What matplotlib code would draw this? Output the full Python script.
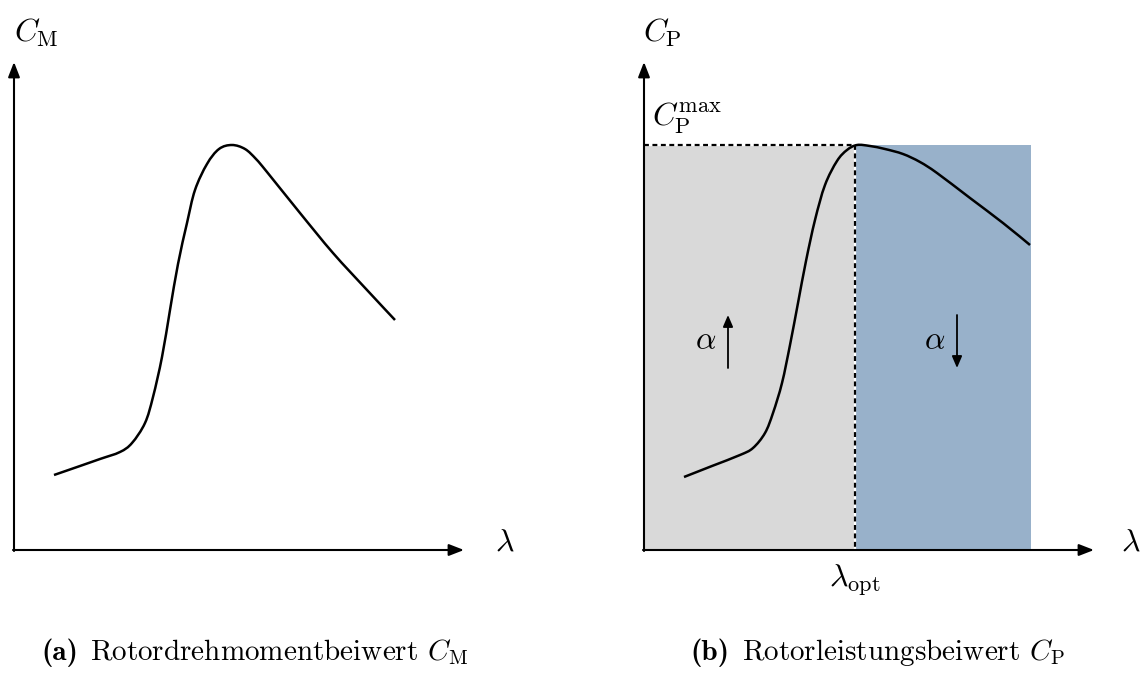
import matplotlib
matplotlib.use("Agg")
import matplotlib.pyplot as plt
import numpy as np
from matplotlib.patches import Rectangle, PathPatch
from matplotlib.path import Path

plt.rcParams['mathtext.fontset'] = 'cm'
plt.rcParams['font.family'] = 'serif'
plt.rcParams['font.serif'] = ['cmr10', 'DejaVu Serif']
plt.rcParams['axes.unicode_minus'] = False

# sketch is drawn in pixel space of the 1140x675 figure (y downwards)
# left panel: C_M(lambda)
cm_x = [54, 80, 100, 120, 132, 145, 153, 162, 170, 178, 187, 195, 207, 219, 232,
        245, 256, 267, 300, 333, 367, 395]
cm_y = [475, 466, 459, 452, 443, 423, 397, 357, 310, 264, 223, 190, 164, 149, 145,
        149, 159, 172, 213, 253, 290, 320]

# right panel: C_P(lambda)
cp_x = [684, 712, 740, 753, 765, 773, 782, 790, 798, 806, 815, 825, 837, 847, 857,
        870, 885, 903, 920, 937, 970, 1003, 1030]
cp_y = [477, 466, 455, 448, 433, 413, 383, 345, 303, 261, 220, 185, 161, 150, 145,
        146, 149, 154, 162, 173, 198, 223, 245]

# regions / reference lines of panel (b)
origin_a = (14, 550)
origin_b = (644, 550)
lam_opt = 855
cp_max = 145
region_right = 1031


def smooth_curve(xs, ys, **kw):
    # catmull-rom through the read points, drawn as cubic bezier path
    p = np.column_stack([xs, ys]).astype(float)
    n = len(p)
    verts = [p[0]]
    codes = [Path.MOVETO]
    for i in range(n - 1):
        p0 = p[max(i - 1, 0)]
        p1 = p[i]
        p2 = p[i + 1]
        p3 = p[min(i + 2, n - 1)]
        verts += [p1 + (p2 - p0) / 6, p2 - (p3 - p1) / 6, p2]
        codes += [Path.CURVE4] * 3
    return PathPatch(Path(verts, codes), fill=False, capstyle='butt', **kw)


fig = plt.figure(figsize=(11.4, 6.75), dpi=100)
ax = fig.add_axes([0, 0, 1, 1])
ax.set_xlim(0, 1140)
ax.set_ylim(675, 0)
ax.axis('off')

# shaded areas
ax.add_patch(Rectangle((origin_b[0], cp_max), lam_opt - origin_b[0], origin_b[1] - cp_max,
                       facecolor='#d9d9d9', edgecolor='none', zorder=1))
ax.add_patch(Rectangle((lam_opt, cp_max), region_right - lam_opt, origin_b[1] - cp_max,
                       facecolor='#98b1ca', edgecolor='none', zorder=1))

# dashed reference lines
for xs, ys in (([origin_b[0], lam_opt], [cp_max, cp_max]),
               ([lam_opt, lam_opt], [cp_max, origin_b[1]])):
    ax.plot(xs, ys, color='white', lw=1.6, zorder=2)
    ax.plot(xs, ys, color='black', lw=1.6, ls=(0, (2.2, 1.6)), zorder=3)

# curves
ax.add_patch(smooth_curve(cm_x, cm_y, edgecolor='black', lw=1.8, zorder=4))
ax.add_patch(smooth_curve(cp_x, cp_y, edgecolor='black', lw=1.8, zorder=4))

# axes with arrows
arrow = dict(arrowstyle='-|>,head_length=0.9,head_width=0.35', color='black', lw=1.5,
             shrinkA=0, shrinkB=0)
for ox, oy in (origin_a, origin_b):
    ax.annotate('', xy=(ox, 62), xytext=(ox, oy + 1), arrowprops=arrow, zorder=5)
    ax.annotate('', xy=(ox + 450, oy), xytext=(ox - 1, oy), arrowprops=arrow, zorder=5)

# alpha arrows
small = dict(arrowstyle='-|>,head_length=0.7,head_width=0.3', color='black', lw=1.3,
             shrinkA=0, shrinkB=0)
ax.annotate('', xy=(728, 315), xytext=(728, 368), arrowprops=small, zorder=5)
ax.annotate('', xy=(957, 368), xytext=(957, 315), arrowprops=small, zorder=5)

fs = 23
ax.text(706, 341, r'$\alpha$', fontsize=fs, ha='center', va='center')
ax.text(935, 341, r'$\alpha$', fontsize=fs, ha='center', va='center')

ax.text(14, 33, r'$C_\mathrm{M}$', fontsize=fs, ha='left', va='center')
ax.text(643, 33, r'$C_\mathrm{P}$', fontsize=fs, ha='left', va='center')
ax.text(505, 543, r'$\lambda$', fontsize=fs, ha='center', va='center')
ax.text(1131, 543, r'$\lambda$', fontsize=fs, ha='center', va='center')
ax.text(652, 118, r'$C_\mathrm{P}^\mathrm{max}$', fontsize=fs, ha='left', va='center')
ax.text(lam_opt, 580, r'$\lambda_\mathrm{opt}$', fontsize=fs, ha='center', va='center')

cap = 21
ax.text(41, 660, '(a)', fontsize=cap, family='cmb10', ha='left', va='baseline')
ax.text(90, 660, r'Rotordrehmomentbeiwert $C_\mathrm{M}$', fontsize=cap,
        ha='left', va='baseline')
ax.text(690, 660, '(b)', fontsize=cap, family='cmb10', ha='left', va='baseline')
ax.text(742, 660, r'Rotorleistungsbeiwert $C_\mathrm{P}$', fontsize=cap,
        ha='left', va='baseline')

plt.savefig("out.png", dpi=100)
